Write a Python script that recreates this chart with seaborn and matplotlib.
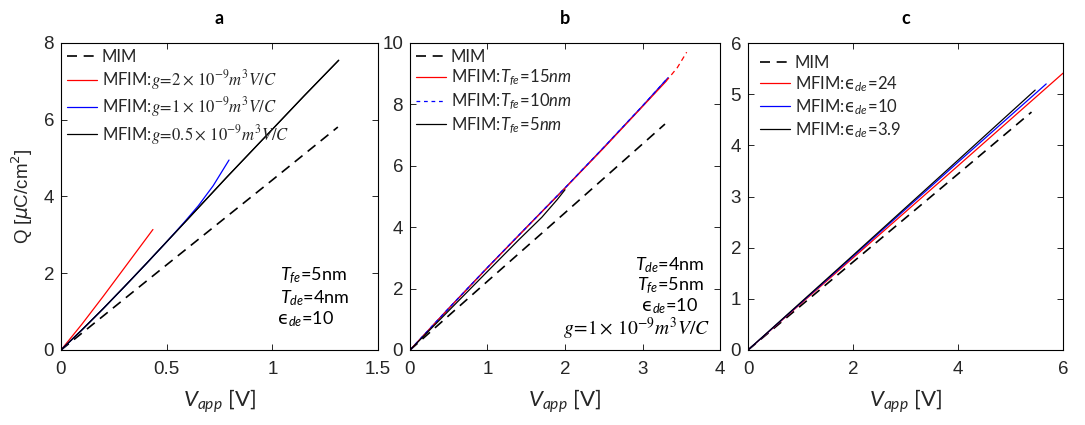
import numpy as np
import pandas as pd
import matplotlib
matplotlib.use("Agg")
import matplotlib.pyplot as plt
import seaborn as sns

# ---------------- data ----------------
# panel a
a_mim_v = [0, 0.5, 1.0, 1.31]
a_mim_q = [0, 2.22, 4.43, 5.81]
a_red_v = [0, 0.1, 0.2, 0.3, 0.435]
a_red_q = [0, 0.68, 1.40, 2.14, 3.14]
a_blue_v = [0, 0.1, 0.2, 0.3, 0.4, 0.5, 0.58, 0.65, 0.72, 0.795]
a_blue_q = [0, 0.53, 1.08, 1.65, 2.23, 2.82, 3.31, 3.76, 4.28, 4.95]
a_blk_v = [0, 0.1, 0.2, 0.3, 0.4, 0.5, 0.6, 0.784, 1.0, 1.15, 1.314]
a_blk_q = [0, 0.53, 1.08, 1.65, 2.23, 2.82, 3.41, 4.50, 5.75, 6.62, 7.55]
a_labels = ["MIM",
            r"MFIM:$g\!=\!2\times\,10^{-9}m^3V/C$",
            r"MFIM:$g\!=\!1\times\,10^{-9}m^3V/C$",
            r"MFIM:$g\!=\!0.5\times\,10^{-9}m^3V/C$"]

# panel b
b_mim_v = [0, 1.0, 2.0, 3.29]
b_mim_q = [0, 2.24, 4.47, 7.36]
b_red_v = [0, 0.5, 1.0, 1.5, 2.0, 2.5, 3.0, 3.30]
b_red_q = [0, 1.35, 2.68, 3.98, 5.27, 6.58, 7.93, 8.74]
b_redx_v = [3.30, 3.45, 3.57]
b_redx_q = [8.74, 9.20, 9.70]
b_blue_v = [0, 0.5, 1.0, 1.5, 2.0, 2.5, 3.0, 3.33]
b_blue_q = [0, 1.36, 2.69, 3.99, 5.28, 6.60, 7.95, 8.87]
b_blk_v = [0, 0.5, 1.0, 1.4, 1.7, 1.9, 2.0]
b_blk_q = [0, 1.28, 2.56, 3.58, 4.32, 4.90, 5.22]
b_labels = ["MIM",
            r"MFIM:$\mathit{T_{fe}\!=\!15nm}$",
            r"MFIM:$\mathit{T_{fe}\!=\!10nm}$",
            r"MFIM:$\mathit{T_{fe}\!=\!5nm}$"]

# panel c
c_mim_v = [0, 2, 4, 5.40]
c_mim_q = [0, 1.72, 3.44, 4.65]
c_red_v = [0, 2, 4, 6]
c_red_q = [0, 1.80, 3.60, 5.41]
c_blue_v = [0, 2, 4, 5.68]
c_blue_q = [0, 1.83, 3.67, 5.20]
c_blk_v = [0, 2, 4, 5.47]
c_blk_q = [0, 1.85, 3.71, 5.08]
EPS = "\u03f5"
c_labels = ["MIM",
            r"MFIM:$\mathsf{" + EPS + r"}_{de}\!=\!\mathit{24}$",
            r"MFIM:$\mathsf{" + EPS + r"}_{de}\!=\!\mathit{10}$",
            r"MFIM:$\mathsf{" + EPS + r"}_{de}\!=\!\mathit{3.9}$"]

titles = ["a", "b", "c"]

# ---------------- style ----------------
sns.set_theme(style="ticks")
plt.rcParams["font.family"] = ["Lato", "DejaVu Sans"]
plt.rcParams["mathtext.fontset"] = "custom"
plt.rcParams["mathtext.rm"] = "Lato"
plt.rcParams["mathtext.it"] = "Lato:italic"
plt.rcParams["mathtext.bf"] = "Lato:bold"
plt.rcParams["mathtext.sf"] = "DejaVu Sans"

TICK_FONT = "Liberation Sans"
TXT = "#262626"

fig = plt.figure(figsize=(10.85, 4.25), dpi=100)
bottom = 75 / 425
height = 307 / 425
axa = fig.add_axes([61 / 1085, bottom, 317 / 1085, height])
axb = fig.add_axes([410 / 1085, bottom, 310 / 1085, height])
axc = fig.add_axes([748 / 1085, bottom, 315 / 1085, height])

mim_kw = dict(linestyle=(0, (6, 4)), linewidth=1.2)
sol_kw = dict(linewidth=0.9)


def line(ax, v, q, col, lab, **kw):
    df = pd.DataFrame({"V": v, "Q": q})
    sns.lineplot(data=df, x="V", y="Q", ax=ax, color=col, label=lab,
                 sort=False, estimator=None, **kw)


# panel a
line(axa, a_mim_v, a_mim_q, "black", a_labels[0], **mim_kw)
line(axa, a_red_v, a_red_q, "#ff0000", a_labels[1], **sol_kw)
line(axa, a_blk_v, a_blk_q, "black", "_nolegend_", **sol_kw)
line(axa, a_blue_v, a_blue_q, "#0000ff", a_labels[2], **sol_kw)
line(axa, a_blk_v, a_blk_q, "black", a_labels[3], **sol_kw)

# panel b
line(axb, b_mim_v, b_mim_q, "black", b_labels[0], **mim_kw)
line(axb, b_blue_v, b_blue_q, "#0000ff", "_nolegend_", **sol_kw)
line(axb, b_red_v, b_red_q, "#ff0000", b_labels[1], **sol_kw)
line(axb, b_redx_v, b_redx_q, "#ff0000", "_nolegend_",
     linestyle=(0, (4, 3)), linewidth=0.9)
line(axb, b_blue_v, b_blue_q, "#0000ff", b_labels[2], linewidth=0.9,
     linestyle=(0, (3, 3)))
line(axb, b_blk_v, b_blk_q, "black", b_labels[3], **sol_kw)

# panel c
line(axc, c_mim_v, c_mim_q, "black", c_labels[0], **mim_kw)
line(axc, c_red_v, c_red_q, "#ff0000", c_labels[1], **sol_kw)
line(axc, c_blue_v, c_blue_q, "#0000ff", c_labels[2], **sol_kw)
line(axc, c_blk_v, c_blk_q, "black", c_labels[3], **sol_kw)

# axes limits / ticks
axa.set_xlim(0, 1.5); axa.set_ylim(0, 8)
axa.set_xticks([0, 0.5, 1, 1.5]); axa.set_xticklabels(["0", "0.5", "1", "1.5"])
axa.set_yticks([0, 2, 4, 6, 8])
axb.set_xlim(0, 4); axb.set_ylim(0, 10)
axb.set_xticks([0, 1, 2, 3, 4]); axb.set_yticks([0, 2, 4, 6, 8, 10])
axc.set_xlim(0, 6); axc.set_ylim(0, 6)
axc.set_xticks([0, 2, 4, 6]); axc.set_yticks([0, 1, 2, 3, 4, 5, 6])

for ax, t in zip([axa, axb, axc], titles):
    for s in ax.spines.values():
        s.set_visible(True)
        s.set_color("black")
        s.set_linewidth(0.8)
    ax.tick_params(direction="in", top=True, right=True, length=4,
                   width=0.7, labelsize=13.5, labelcolor=TXT)
    ax.tick_params(axis="x", pad=8)
    ax.tick_params(axis="y", pad=5)
    for lab in ax.get_xticklabels() + ax.get_yticklabels():
        lab.set_fontfamily(TICK_FONT)
    ax.set_xlabel(r"$V_{app}$ [V]", fontsize=16, color=TXT, labelpad=7)
    ax.set_ylabel("")
    ax.set_title(t, fontsize=13, fontweight="bold", pad=14, color="black")
    ax.grid(False)

axa.set_ylabel(r"Q [$\mu$C/cm$^2$]", fontsize=13.5, color=TXT,
               fontfamily=TICK_FONT, labelpad=6)
axa.yaxis.label.set_math_fontfamily("dejavusans")

leg_kw = dict(loc="upper left", frameon=False, fontsize=12,
              handlelength=1.8, handletextpad=0.3, labelspacing=0.2,
              borderaxespad=0.15, borderpad=0.2)
la = axa.legend(**leg_kw)
for tx in la.get_texts()[1:]:
    tx.set_math_fontfamily("stix")
lb = axb.legend(**leg_kw)
lc = axc.legend(**dict(leg_kw, borderaxespad=0.5))

# annotations panel a
ann_kw = dict(transform=axa.transAxes, fontsize=13, color="black",
              ha="left", va="center")
axa.text(0.69, (350 - 276) / 307, r"$T_{fe}$=5nm", **ann_kw)
axa.text(0.69, (350 - 298) / 307, r"$T_{de}$=4nm", **ann_kw)
axa.text(0.68, (350 - 319) / 307, r"$\mathsf{" + EPS + r"}_{de}$=10", **ann_kw)

# annotations panel b
bx = (670 - 410) / 310
bkw = dict(transform=axb.transAxes, fontsize=13, color="black",
           ha="center", va="center")
axb.text(bx, (350 - 265) / 307, r"$T_{de}$=4nm", **bkw)
axb.text(bx, (350 - 286) / 307, r"$T_{fe}$=5nm", **bkw)
axb.text(bx, (350 - 306) / 307, r"$\mathsf{" + EPS + r"}_{de}$=10", **bkw)
gt = axb.text((636 - 410) / 310, (350 - 329) / 307,
              r"$g\!=\!1\times\,10^{-9}m^3V/C$", **dict(bkw, fontsize=14))
gt.set_math_fontfamily("stix")

fig.savefig("out.png", dpi=100)
